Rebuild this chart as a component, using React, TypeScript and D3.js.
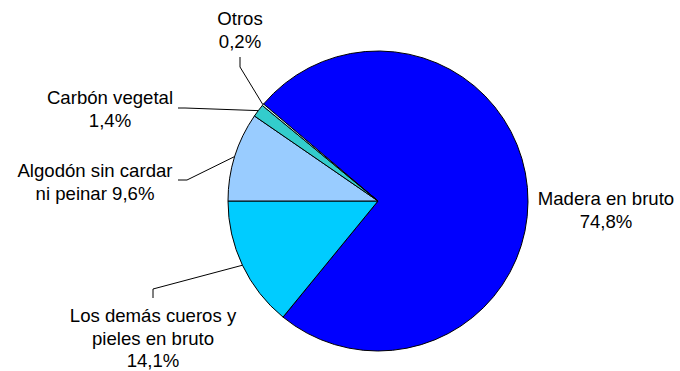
import React from "react";
import * as d3 from "d3";

const categories = ["Madera en bruto", "Los demás cueros y pieles en bruto", "Algodón sin cardar ni peinar", "Carbón vegetal", "Otros"];
const values = [74.8, 14.1, 9.6, 1.4, 0.2];
const valueLabels = ["74,8%", "14,1%", "9,6%", "1,4%", "0,2%"];
const labelLines = [
  ["Madera en bruto", "74,8%"],
  ["Los demás cueros y", "pieles en bruto", "14,1%"],
  ["Algodón sin cardar", "ni peinar 9,6%"],
  ["Carbón vegetal", "1,4%"],
  ["Otros", "0,2%"],
];
const colors = ["#0000FF", "#00CCFF", "#99CCFF", "#33CCCC", "#CCFFFF"];

const W = 680, H = 371;
const cx = 378, cy = 201, R = 150;
const FONT = "Liberation Sans, Arial, sans-serif";
const FS = 18.6;
const LH = 22.5;

// label layout: center x, first baseline y, leader elbow points (null = no leader)
const labelLayout = [
  { x: 606, y: 205, leader: null as null | number[][] },
  { x: 153, y: 322, leader: [[153, 298], [153, 289]] },
  { x: 95, y: 177, leader: [[178, 180], [187, 180]] },
  { x: 110, y: 104, leader: [[178, 108], [185, 108]] },
  { x: 240, y: 25, leader: [[240, 57], [240, 67]] },
];

export default function App() {
  const total = d3.sum(values);
  const start = 1.5 * Math.PI - 2 * Math.PI * ((values[0] + values[1]) / total);
  const pie = d3.pie<number>().sort(null).value((d) => d).startAngle(start).endAngle(start + 2 * Math.PI);
  const arcs = pie(values);
  const arc = d3.arc<d3.PieArcDatum<number>>().innerRadius(0).outerRadius(R);

  return (
    <svg width={W} height={H} style={{ position: "absolute", left: 0, top: 0, background: "#fff" }}>
      <g transform={`translate(${cx},${cy})`}>
        {arcs.map((a, i) => (
          <path key={i} d={arc(a) || ""} fill={colors[i]} stroke="#000" strokeWidth={1} strokeLinejoin="round" />
        ))}
      </g>
      {arcs.map((a, i) => {
        const lay = labelLayout[i];
        if (!lay.leader) return null;
        const mid = (a.startAngle + a.endAngle) / 2;
        const ex = cx + R * Math.sin(mid);
        const ey = cy - R * Math.cos(mid);
        const pts = [...lay.leader, [ex, ey]];
        const d = d3.line()(pts as [number, number][]) || "";
        return <path key={"l" + i} d={d} fill="none" stroke="#000" strokeWidth={1} />;
      })}
      {labelLines.map((lines, i) => (
        <text key={"t" + i} fontFamily={FONT} fontSize={FS} fill="#000" textAnchor="middle">
          {lines.map((ln, j) => (
            <tspan key={j} x={labelLayout[i].x} y={labelLayout[i].y + j * LH}>
              {ln}
            </tspan>
          ))}
        </text>
      ))}
    </svg>
  );
}
